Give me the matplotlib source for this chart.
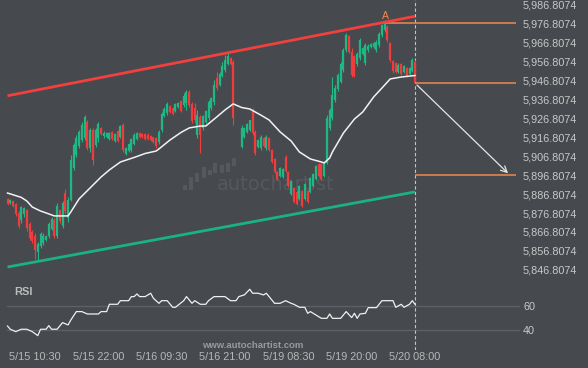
import numpy as np
import matplotlib.pyplot as plt
from matplotlib.patches import Rectangle
from matplotlib.ticker import FuncFormatter

plt.rcParams['font.family'] = ['Liberation Sans', 'DejaVu Sans']

nan = float('nan')

# 30 min candles
opens = [5884.3, 5882.2, 5883.2, 5881.6, 5876.9, 5873.2, 5876.3, 5878.5, 5871.1, 5866.8,
         5864.7, 5856.3, 5859.4, 5861.0, 5862.6, 5864.7, 5868.4, 5873.2, 5864.7, 5878.5,
         5870.0, 5887.4, 5874.2, 5883.7, 5900.7, 5907.5, 5912.3, 5915.4, 5916.5, 5924.9,
         5911.2, 5920.7, 5912.8, 5916.5, 5921.8, 5917.6, 5917.0, 5916.0, 5919.7, 5914.9,
         5920.2, 5917.0, 5923.4, 5908.0, 5909.6, 5910.2, 5913.3, 5916.0, 5919.1, 5918.6,
         5918.6, 5918.1, 5917.6, 5917.0, 5916.5, 5914.4, 5920.7, 5928.1, 5929.7, 5933.4,
         5932.3, 5930.8, 5932.9, 5936.0, 5933.9, 5935.0, 5940.8, 5934.5, 5932.3, 5918.1,
         5927.6, 5921.8, 5924.9, 5927.1, 5932.3, 5935.5, 5948.2, 5944.5, 5949.2, 5952.4,
         5955.6, 5958.8, 5956.6, nan, nan, 5911.7, 5917.0, 5919.7, 5920.7, 5931.3,
         5919.7, 5911.7, 5911.2, 5916.5, 5911.2, 5916.5, 5910.2, 5905.4, 5898.5, 5896.4,
         5895.9, 5906.5, 5898.5, 5886.9, 5890.1, 5888.0, 5884.3, 5888.5, 5884.3, 5888.5,
         5888.0, 5891.1, 5894.8, 5902.8, 5902.8, 5896.4, 5903.3, 5921.8, 5927.1, 5936.6,
         5942.4, 5946.1, 5952.4, 5963.0, 5970.4, 5961.9, 5959.8, 5955.6, 5958.8, 5960.9,
         5956.1, 5963.0, 5964.6, 5964.6, 5963.0, 5965.6, 5970.9, 5973.6, 5975.1, 5966.7,
         5957.2, 5956.1, 5951.4, 5955.6, 5951.4, 5953.5, 5950.3, 5951.9, 5956.6]
closes = [5881.6, 5883.7, 5880.6, 5876.3, 5870.0, 5880.0, 5879.5, 5868.9, 5863.7, 5862.1,
          5857.3, 5860.5, 5865.8, 5864.7, 5864.7, 5871.1, 5873.7, 5864.7, 5880.6, 5872.6,
          5882.2, 5877.9, 5883.7, 5904.9, 5912.8, 5916.5, 5919.7, 5923.4, 5927.6, 5911.2,
          5920.7, 5904.9, 5920.7, 5923.9, 5918.6, 5919.1, 5919.1, 5919.1, 5916.0, 5918.6,
          5914.9, 5922.8, 5910.2, 5911.2, 5913.3, 5916.0, 5918.1, 5919.1, 5917.0, 5917.0,
          5916.0, 5916.0, 5915.4, 5914.4, 5912.3, 5919.7, 5929.2, 5931.8, 5934.5, 5930.2,
          5929.2, 5934.5, 5935.0, 5930.8, 5938.7, 5940.8, 5933.9, 5925.5, 5926.0, 5928.6,
          5918.1, 5928.1, 5930.8, 5935.5, 5937.6, 5944.5, 5942.9, 5950.3, 5954.5, 5957.7,
          5959.8, 5955.6, 5927.1, nan, nan, 5921.8, 5921.8, 5923.9, 5926.0, 5919.1,
          5908.6, 5915.4, 5917.0, 5912.3, 5917.0, 5910.2, 5903.8, 5898.5, 5894.8, 5900.7,
          5900.1, 5899.1, 5891.1, 5893.8, 5882.7, 5881.6, 5891.1, 5880.6, 5892.2, 5882.7,
          5895.4, 5897.5, 5901.7, 5896.4, 5894.8, 5903.3, 5927.1, 5931.3, 5939.2, 5942.9,
          5949.8, 5955.6, 5963.0, 5970.9, 5961.9, 5949.8, 5949.2, 5960.9, 5968.3, 5964.0,
          5965.6, 5965.1, 5966.2, 5966.7, 5967.2, 5971.4, 5976.2, 5976.7, 5968.3, 5957.7,
          5951.9, 5951.4, 5955.1, 5950.3, 5954.5, 5949.2, 5953.5, 5957.7, 5945.5]
highs = [5884.8, 5884.3, 5883.7, 5882.2, 5877.9, 5880.6, 5880.0, 5879.0, 5872.1, 5867.9,
         5866.3, 5861.6, 5866.8, 5866.3, 5865.3, 5872.1, 5874.8, 5874.2, 5882.2, 5879.0,
         5883.2, 5889.6, 5885.3, 5907.5, 5913.9, 5918.1, 5920.7, 5924.9, 5928.6, 5926.0,
         5921.8, 5921.8, 5921.8, 5924.9, 5922.3, 5920.2, 5919.7, 5919.7, 5920.2, 5919.1,
         5920.7, 5923.4, 5924.4, 5911.7, 5913.9, 5916.5, 5919.1, 5919.7, 5919.7, 5919.1,
         5919.1, 5919.1, 5918.1, 5917.0, 5917.0, 5920.7, 5930.2, 5932.9, 5935.5, 5933.9,
         5932.9, 5935.0, 5935.5, 5936.6, 5940.3, 5941.8, 5941.8, 5935.5, 5935.0, 5931.3,
         5928.6, 5928.6, 5931.3, 5936.6, 5938.2, 5947.1, 5951.4, 5951.4, 5956.6, 5960.3,
         5961.4, 5959.3, 5957.7, nan, nan, 5923.4, 5922.3, 5924.4, 5926.0, 5932.3,
         5920.7, 5916.0, 5918.1, 5917.0, 5918.1, 5917.0, 5910.7, 5905.9, 5899.1, 5901.2,
         5900.7, 5907.5, 5899.1, 5894.3, 5890.6, 5889.0, 5891.7, 5889.0, 5892.7, 5889.0,
         5895.9, 5898.0, 5902.2, 5903.3, 5903.3, 5903.8, 5928.6, 5932.3, 5948.7, 5944.5,
         5950.8, 5956.6, 5964.0, 5972.0, 5970.9, 5964.0, 5960.3, 5961.9, 5969.3, 5964.6,
         5966.7, 5966.2, 5966.7, 5967.2, 5968.3, 5972.5, 5976.7, 5977.2, 5976.2, 5967.2,
         5957.7, 5956.6, 5956.1, 5956.1, 5955.1, 5954.0, 5954.0, 5958.8, 5957.7]
lows = [5881.1, 5881.6, 5880.0, 5875.3, 5868.9, 5871.6, 5874.8, 5867.4, 5862.6, 5861.0,
        5852.6, 5852.0, 5858.4, 5860.0, 5862.1, 5863.7, 5867.9, 5863.7, 5863.7, 5871.6,
        5868.9, 5876.9, 5872.1, 5883.2, 5899.6, 5906.5, 5911.2, 5914.4, 5915.4, 5910.2,
        5909.1, 5902.2, 5911.7, 5914.4, 5918.1, 5916.5, 5916.5, 5915.4, 5915.4, 5914.4,
        5914.4, 5916.5, 5909.1, 5907.5, 5909.1, 5909.1, 5912.8, 5915.4, 5916.5, 5916.5,
        5915.4, 5915.4, 5914.9, 5913.9, 5911.2, 5913.3, 5919.7, 5927.6, 5928.6, 5929.7,
        5928.6, 5930.2, 5932.3, 5930.2, 5932.9, 5931.3, 5932.9, 5924.4, 5924.4, 5916.5,
        5908.6, 5920.7, 5924.4, 5926.0, 5931.3, 5933.9, 5941.8, 5944.0, 5948.7, 5951.4,
        5955.1, 5955.1, 5923.4, nan, nan, 5911.2, 5916.5, 5919.1, 5920.2, 5918.1,
        5907.5, 5911.2, 5910.2, 5911.7, 5910.2, 5909.6, 5903.3, 5898.0, 5894.3, 5895.9,
        5895.4, 5898.5, 5890.6, 5886.4, 5882.2, 5881.1, 5883.7, 5880.0, 5883.7, 5882.2,
        5887.4, 5890.6, 5894.3, 5895.9, 5894.3, 5895.9, 5902.8, 5920.7, 5926.0, 5935.5,
        5941.3, 5945.5, 5951.4, 5961.9, 5961.4, 5948.7, 5948.7, 5954.5, 5957.7, 5960.3,
        5955.1, 5961.9, 5964.0, 5964.0, 5961.9, 5964.6, 5969.9, 5972.5, 5967.2, 5956.6,
        5950.8, 5950.8, 5950.8, 5949.8, 5950.8, 5948.7, 5949.8, 5951.4, 5945.5]

# moving average (white line), sampled at candle indices
ma_idx = [0, 5, 7, 9, 12, 14, 17, 22, 23, 26, 30, 34, 37, 41, 46, 50, 54, 55, 59, 63,
          66, 70, 72, 76, 79, 82, 85, 88, 92, 95, 99, 103, 106, 110, 114, 115, 117, 118,
          122, 126, 129, 133, 136, 139, 143, 148]
ma_val = [5887.4, 5885.1, 5883.2, 5880.0, 5877.9, 5876.9, 5875.3, 5875.3, 5877.4, 5884.3,
          5890.1, 5895.9, 5899.6, 5903.8, 5906.2, 5908.3, 5909.6, 5910.7, 5915.4, 5919.4,
          5921.8, 5922.8, 5922.8, 5927.6, 5931.3, 5934.5, 5932.6, 5931.8, 5928.6, 5926.0,
          5919.7, 5914.9, 5909.1, 5905.4, 5903.8, 5903.3, 5905.9, 5909.1, 5919.1, 5926.5,
          5930.2, 5938.2, 5942.9, 5947.7, 5948.7, 5949.5]

# RSI panel
rsi_idx = [0, 1, 3, 5, 7, 9, 11, 12, 14, 15, 16, 18, 20, 22, 23, 25, 27, 29, 33, 34,
           36, 37, 40, 41, 44, 45, 46, 47, 48, 50, 52, 53, 55, 56, 58, 60, 61, 64, 65, 67,
           68, 70, 72, 73, 75, 79, 81, 83, 84, 86, 88, 89, 91, 93, 94, 95, 97, 99, 101, 103,
           104, 106, 108, 109, 110, 112, 114, 116, 117, 118, 121, 123, 125, 126, 127, 128, 130, 131,
           134, 136, 140, 141, 143, 144, 146, 147, 148]
rsi_val = [43.3, 40.6, 38.6, 40.6, 40.6, 38.6, 35.3, 40.6, 40.6, 43.6, 40.6, 40.6, 46.1, 44.2, 48.3,
           55.3, 55.3, 53.3, 53.3, 55.3, 55.3, 61.4, 61.4, 64.4, 64.4, 67.8, 67.8, 70.0, 67.8, 67.8,
           70.6, 66.4, 62.2, 64.4, 64.4, 58.9, 58.9, 64.4, 67.8, 62.2, 64.4, 61.4, 61.4, 64.4, 67.8,
           67.8, 64.4, 64.4, 67.8, 69.2, 73.9, 70.6, 70.6, 69.2, 70.6, 67.8, 62.2, 62.2, 64.4, 62.2,
           61.4, 58.9, 58.9, 53.9, 55.3, 52.5, 49.7, 49.7, 53.3, 49.7, 49.7, 55.3, 50.3, 53.9, 49.7,
           53.3, 53.9, 58.6, 58.6, 64.4, 64.4, 58.9, 61.4, 58.9, 61.4, 64.4, 61.4]

upper_chan = [5938.8, 5980.8]   # at first and last candle
lower_chan = [5848.3, 5888.0]
level_a = 5977.2
level_entry = 5945.5
level_target = 5896.8

tick_pos = [10, 33, 56, 79, 102, 125, 148]
tick_labels = ['5/15 10:30', '5/15 22:00', '5/16 09:30', '5/16 21:00',
               '5/19 08:30', '5/19 20:00', '5/20 08:00']
price_ticks = [5846.8074 + 10 * k for k in range(15)]

BG = '#46494e'
GREEN = '#1fb884'
RED = '#f03c3c'
ORANGE = '#f08a50'
TXT = '#c8c8c8'

W, H = 588, 368
fig = plt.figure(figsize=(W / 100, H / 100), dpi=100, facecolor=BG)
ax = fig.add_axes([0, 90 / H, 520 / W, 278 / H], facecolor=BG)
ax2 = fig.add_axes([0, 18 / H, 520 / W, 72 / H], facecolor=BG)

xl = (-2.724, 186.13)

# candles
o = np.array(opens, dtype=float)
c = np.array(closes, dtype=float)
hi = np.array(highs, dtype=float)
lo = np.array(lows, dtype=float)
idx = np.arange(len(o))
ok = ~np.isnan(o)
col = np.where(c >= o, GREEN, RED)[ok]
ax.vlines(idx[ok], lo[ok], hi[ok], colors=col, lw=0.8, zorder=3)
b_lo = np.minimum(o, c)[ok]
b_hi = np.maximum(o, c)[ok]
mid = (b_lo + b_hi) / 2
half = np.maximum((b_hi - b_lo) / 2, 0.45)
ax.vlines(idx[ok], mid - half, mid + half, colors=col, lw=1.6, zorder=3)

ax.plot(ma_idx, ma_val, color='#f2f2f2', lw=1.1, zorder=4)

last = len(o) - 1
ax.plot([0, last], upper_chan, color='#f2403f', lw=2.0, solid_capstyle='butt', zorder=5)
ax.plot([0, last], lower_chan, color='#1bb282', lw=2.0, solid_capstyle='butt', zorder=5)

ax.hlines(level_a, 136, 184.7, color=ORANGE, lw=1.1, zorder=4)
ax.hlines([level_entry, level_target], last, 184.7, color=ORANGE, lw=1.1, zorder=4)
ax.text(137.3, 5980.9, 'A', color=ORANGE, fontsize=7.5, ha='center', va='center')
ax.annotate('', xy=(182.5, level_target), xytext=(last, level_entry),
            arrowprops=dict(arrowstyle='->', color='#e6e6e6', lw=0.9, mutation_scale=11))
ax.axvline(last, color='#c4c4c4', lw=0.8, ls=(0, (3, 2)), zorder=2)

# watermark
ax.text(217 / W, 1 - 184 / H, 'autochartist', transform=fig.transFigure, fontsize=14,
        family='DejaVu Sans', color='#55585d', va='center', ha='left', zorder=0)
for bx, top, bot in [(183, 185, 190), (189, 177, 190), (195, 173, 182), (202, 167, 178),
                     (208, 170, 175), (213, 163, 173), (220, 165, 173), (226, 163, 172),
                     (232, 158, 166)]:
    ax.add_patch(Rectangle((bx / W, 1 - bot / H), 4 / W, (bot - top) / H,
                           transform=fig.transFigure, color='#55585d', lw=0, zorder=0))

ax.set_xlim(*xl)
ax.set_ylim(5842.5, 5989.4)
ax.set_yticks(price_ticks)
ax.yaxis.set_major_formatter(FuncFormatter(lambda v, p: f'{v:,.4f}'))
ax.yaxis.tick_right()
ax.tick_params(axis='y', length=0, pad=2.2, labelsize=7.8, labelcolor=TXT)
ax.set_xticks([])

# RSI
ax2.plot(rsi_idx, rsi_val, color='#f0f0f0', lw=0.9, zorder=3)
for g in (40, 60):
    ax2.axhline(g, xmin=7 / 520, color='#5e6166', lw=0.9, zorder=1)
ax2.axvline(last, color='#c4c4c4', lw=0.8, ls=(0, (3, 2)), zorder=2)
ax2.set_xlim(*xl)
ax2.set_ylim(23.3, 83.3)
ax2.set_yticks([40, 60])
ax2.yaxis.tick_right()
ax2.tick_params(axis='y', length=0, pad=2.2, labelsize=7.8, labelcolor=TXT)
ax2.set_xticks(tick_pos)
ax2.set_xticklabels(tick_labels)
ax2.tick_params(axis='x', length=0, pad=1.5, labelsize=7.8, labelcolor='#b8b8b8')

for a in (ax, ax2):
    for s in a.spines.values():
        s.set_visible(False)

fig.text(14 / W, 1 - 292 / H, 'RSI', fontsize=8, fontweight='bold', color='#bcbcbc', va='center')
fig.text(253 / W, 1 - 345 / H, 'www.autochartist.com', fontsize=6.8, fontweight='bold',
         color='#9a9a9a', ha='center', va='center')

fig.savefig('out.png', dpi=100, facecolor=BG)
